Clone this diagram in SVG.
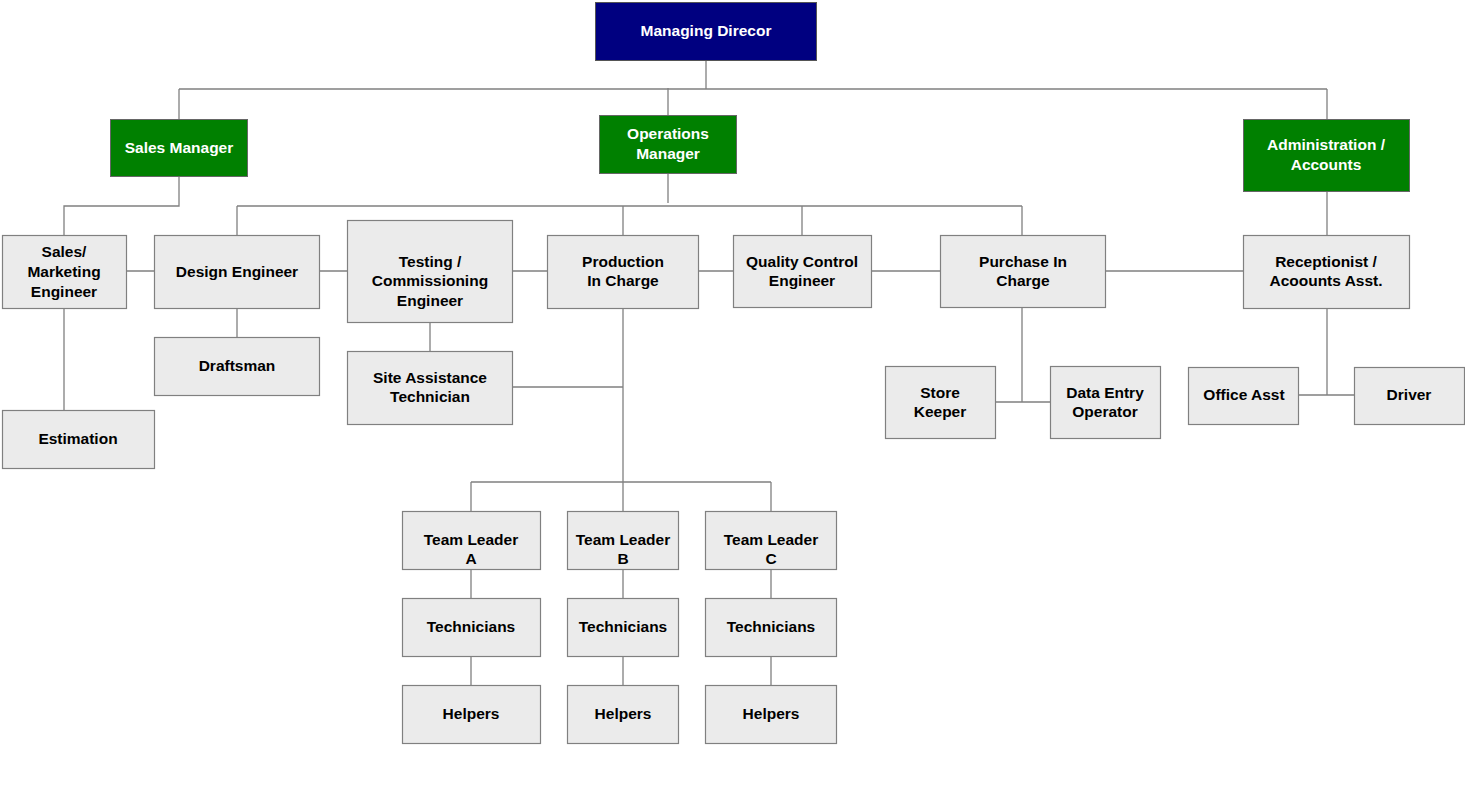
<svg xmlns="http://www.w3.org/2000/svg" width="1465" height="805" viewBox="0 0 1465 805">
<style>
text{font-family:"Liberation Sans",Arial,sans-serif;font-weight:bold;font-size:15.5px;text-anchor:middle;dominant-baseline:central;transform:translateY(-1px)}
.b rect{fill:#ebebeb;stroke:#808080;stroke-width:1.2}
.b text{fill:#000}
.g rect{fill:#008000;stroke:#666;stroke-width:1}
.g text,.n text{fill:#fff}
.n rect{fill:#000080;stroke:#555;stroke-width:1}
#connectors path{fill:none;stroke:#808080;stroke-width:1.3}
</style>
<rect width="1465" height="805" fill="#fff"/>
<g id="connectors">
<path d="M706 60V89M179 89H1327M179 89V119M668 88V115M1327 89V119"/>
<path d="M179 176V206H64V235"/>
<path d="M668 173V203M237 206H1022M237 206V235M623 206V235M802 206V235M1022 206V235"/>
<path d="M1327 191V235"/>
<path d="M126 271H154M319 271H347M512 271H547M698 271H733M871 271H940M1105 271H1243"/>
<path d="M64 308V410M237 308V337M430 322V351M512 387H623M623 308V482"/>
<path d="M471 482H771M471 482V511M623 482V511M771 482V511"/>
<path d="M471 569V598M623 569V598M771 569V598M471 656V685M623 656V685M771 656V685"/>
<path d="M1022 307V402M995 402H1050M1327 308V395M1298 395H1354"/>
</g>
<g id="managing-director" class="n"><rect x="595.5" y="2.5" width="221" height="58"/><text x="706" y="31">Managing Direcor</text></g>
<g id="sales-manager" class="g"><rect x="110.5" y="119.5" width="137" height="57"/><text x="179" y="148">Sales Manager</text></g>
<g id="operations-manager" class="g"><rect x="599.5" y="115.5" width="137" height="58"/><text x="668" y="134">Operations</text><text x="668" y="154">Manager</text></g>
<g id="administration" class="g"><rect x="1243.5" y="119.5" width="166" height="72"/><text x="1326" y="145">Administration /</text><text x="1326" y="165">Accounts</text></g>
<g id="sales-marketing" class="b"><rect x="2.5" y="235.5" width="124" height="73"/><text x="64" y="252">Sales/</text><text x="64" y="272">Marketing</text><text x="64" y="292">Engineer</text></g>
<g id="design-engineer" class="b"><rect x="154.5" y="235.5" width="165" height="73"/><text x="237" y="272">Design Engineer</text></g>
<g id="testing-engineer" class="b"><rect x="347.5" y="220.5" width="165" height="102"/><text x="430" y="262">Testing /</text><text x="430" y="281">Commissioning</text><text x="430" y="301">Engineer</text></g>
<g id="production" class="b"><rect x="547.5" y="235.5" width="151" height="73"/><text x="623" y="262">Production</text><text x="623" y="281">In Charge</text></g>
<g id="quality-control" class="b"><rect x="733.5" y="235.5" width="138" height="72"/><text x="802" y="262">Quality Control</text><text x="802" y="281">Engineer</text></g>
<g id="purchase" class="b"><rect x="940.5" y="235.5" width="165" height="72"/><text x="1023" y="262">Purchase In</text><text x="1023" y="281">Charge</text></g>
<g id="receptionist" class="b"><rect x="1243.5" y="235.5" width="166" height="73"/><text x="1326" y="262">Receptionist /</text><text x="1326" y="281">Acoounts Asst.</text></g>
<g id="draftsman" class="b"><rect x="154.5" y="337.5" width="165" height="58"/><text x="237" y="366">Draftsman</text></g>
<g id="estimation" class="b"><rect x="2.5" y="410.5" width="152" height="58"/><text x="78" y="439">Estimation</text></g>
<g id="site-assistance" class="b"><rect x="347.5" y="351.5" width="165" height="73"/><text x="430" y="378">Site Assistance</text><text x="430" y="397">Technician</text></g>
<g id="store-keeper" class="b"><rect x="885.5" y="366.5" width="110" height="72"/><text x="940" y="393">Store</text><text x="940" y="412">Keeper</text></g>
<g id="data-entry" class="b"><rect x="1050.5" y="366.5" width="110" height="72"/><text x="1105" y="393">Data Entry</text><text x="1105" y="412">Operator</text></g>
<g id="office-asst" class="b"><rect x="1188.5" y="367.5" width="110" height="57"/><text x="1244" y="395">Office Asst</text></g>
<g id="driver" class="b"><rect x="1354.5" y="367.5" width="110" height="57"/><text x="1409" y="395">Driver</text></g>
<g id="team-leader-a" class="b"><rect x="402.5" y="511.5" width="138" height="58"/><text x="471" y="540">Team Leader</text><text x="471" y="559">A</text></g>
<g id="team-leader-b" class="b"><rect x="567.5" y="511.5" width="111" height="58"/><text x="623" y="540">Team Leader</text><text x="623" y="559">B</text></g>
<g id="team-leader-c" class="b"><rect x="705.5" y="511.5" width="131" height="58"/><text x="771" y="540">Team Leader</text><text x="771" y="559">C</text></g>
<g id="technicians-a" class="b"><rect x="402.5" y="598.5" width="138" height="58"/><text x="471" y="627">Technicians</text></g>
<g id="technicians-b" class="b"><rect x="567.5" y="598.5" width="111" height="58"/><text x="623" y="627">Technicians</text></g>
<g id="technicians-c" class="b"><rect x="705.5" y="598.5" width="131" height="58"/><text x="771" y="627">Technicians</text></g>
<g id="helpers-a" class="b"><rect x="402.5" y="685.5" width="138" height="58"/><text x="471" y="714">Helpers</text></g>
<g id="helpers-b" class="b"><rect x="567.5" y="685.5" width="111" height="58"/><text x="623" y="714">Helpers</text></g>
<g id="helpers-c" class="b"><rect x="705.5" y="685.5" width="131" height="58"/><text x="771" y="714">Helpers</text></g>
</svg>
